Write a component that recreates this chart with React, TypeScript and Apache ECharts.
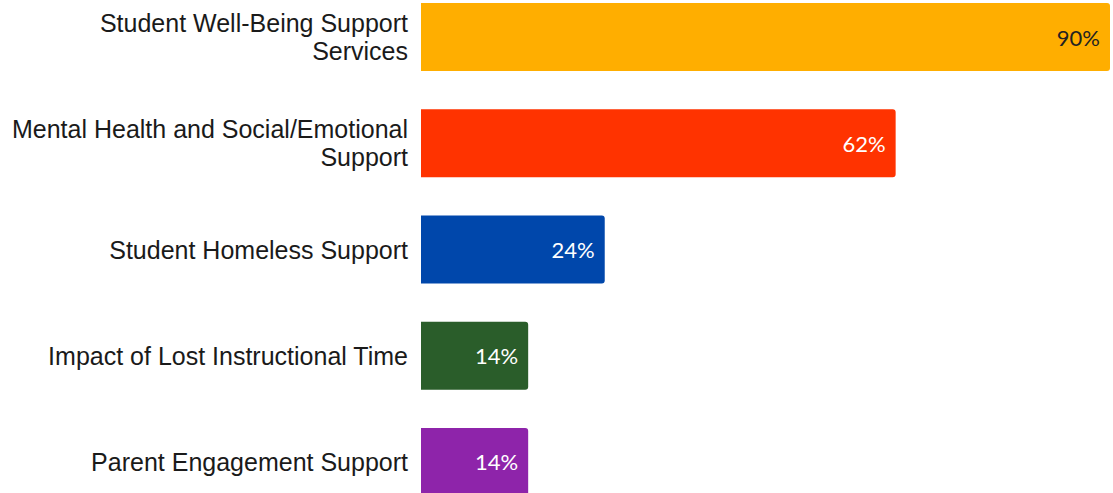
import React, { useEffect, useRef } from "react";
import * as echarts from "echarts";

const categories = [
  "Student Well-Being Support\nServices",
  "Mental Health and Social/Emotional\nSupport",
  "Student Homeless Support",
  "Impact of Lost Instructional Time",
  "Parent Engagement Support",
];
const values = [90, 62, 24, 14, 14];
const colors = ["#FFAE00", "#FF3300", "#0047AB", "#2A5D2A", "#8E24AA"];
const labelColors = ["#222222", "#ffffff", "#ffffff", "#ffffff", "#ffffff"];

export default function App() {
  const ref = useRef<HTMLDivElement>(null);
  useEffect(() => {
    const chart = echarts.init(ref.current!, undefined, { renderer: "svg" });
    chart.setOption({
      animation: false,
      grid: { left: 421, right: 3, top: 0, bottom: 0, containLabel: false },
      xAxis: {
        type: "value",
        min: 0,
        max: 90,
        show: false,
      },
      yAxis: {
        type: "category",
        data: categories,
        inverse: true,
        axisLine: { show: false },
        axisTick: { show: false },
        axisLabel: {
          margin: 13,
          fontFamily: "Liberation Sans, Arial, sans-serif",
          fontSize: 25,
          lineHeight: 28,
          color: "#1a1a1a",
          align: "right",
        },
      },
      series: [
        {
          type: "bar",
          barWidth: 68,
          data: values.map((v, i) => ({
            value: v,
            itemStyle: { color: colors[i], borderRadius: [0, 3, 3, 0] },
            label: { color: labelColors[i] },
          })),
          label: {
            show: true,
            position: "insideRight",
            distance: 10,
            formatter: "{c}%",
            fontFamily: "Lato, sans-serif",
            fontSize: 22,
          },
        },
      ],
    });
    return () => chart.dispose();
  }, []);
  return (
    <div style={{ position: "fixed", left: 0, top: 0, width: 1113, height: 493, overflow: "hidden", background: "#fff" }}>
      <div ref={ref} style={{ position: "absolute", left: 0, top: -16, width: 1113, height: 531 }} />
    </div>
  );
}
